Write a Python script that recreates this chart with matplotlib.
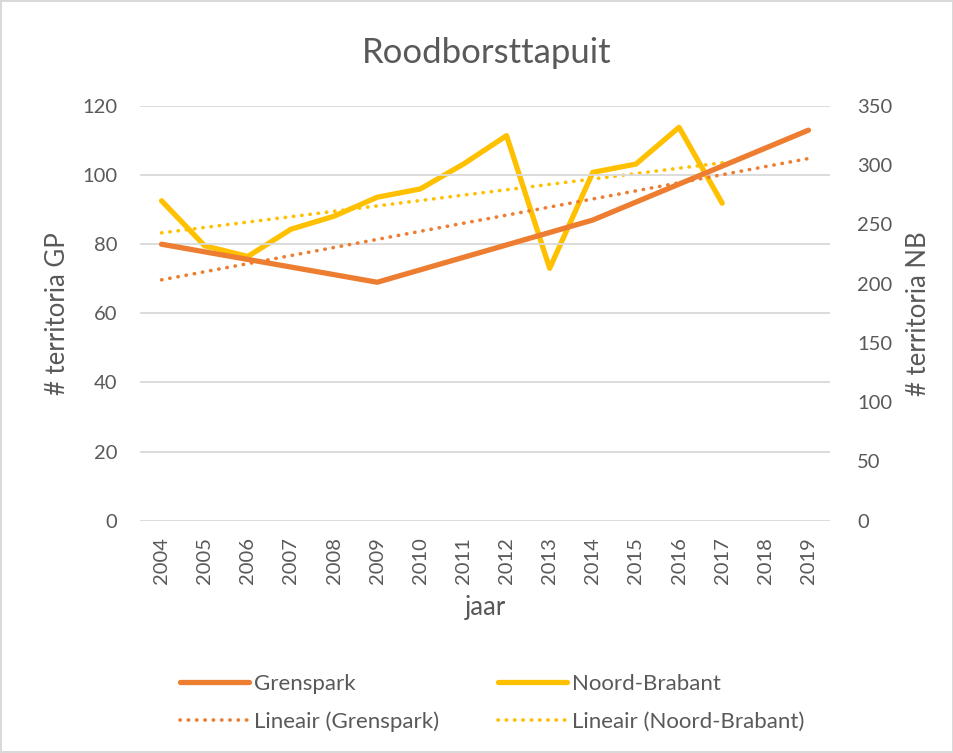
import matplotlib.pyplot as plt
import numpy as np

plt.rcParams['font.family'] = ['Lato', 'DejaVu Sans']

jaren = ['2004', '2005', '2006', '2007', '2008', '2009', '2010', '2011',
         '2012', '2013', '2014', '2015', '2016', '2017', '2018', '2019']
# Grenspark: alleen tellingen in 2004, 2009, 2014 en 2019 (lege cellen verbonden)
grenspark = [80, None, None, None, None, 69, None, None,
             None, None, 87, None, None, None, None, 113]
noord_brabant = [270, 232, 223, 246, 257, 273, 280, 301, 325, 213, 294, 301, 332, 268]

ORANJE = '#ED7D31'
GEEL = '#FFC000'
TEKST = '#595959'
W, H = 954, 753

fig = plt.figure(figsize=(W / 100, H / 100), dpi=100)
fig.patch.set_edgecolor('#D9D9D9')
fig.patch.set_linewidth(1.5)
ax = fig.add_axes([140 / W, 1 - 520.7 / H, 690 / W, 414.7 / H])
ax2 = ax.twinx()

x_gp = np.array([i for i, v in enumerate(grenspark) if v is not None])
y_gp = np.array([v for v in grenspark if v is not None])
x_nb = np.arange(len(noord_brabant))
y_nb = np.array(noord_brabant)

# trendlijnen (lineair, zoals Excel)
stip = (0, (0.1, 2.2))
a, b = np.polyfit(x_gp, y_gp, 1)
xs = np.arange(len(jaren))
trend_gp, = ax.plot(xs, a * xs + b, color=ORANJE, lw=2.6, ls=stip,
                    dash_capstyle='round', label='Lineair (Grenspark)')
c, d = np.polyfit(x_nb, y_nb, 1)
trend_nb, = ax2.plot(x_nb, c * x_nb + d, color=GEEL, lw=2.6, ls=stip,
                     dash_capstyle='round', label='Lineair (Noord-Brabant)')

lijn_gp, = ax.plot(x_gp, y_gp, color=ORANJE, lw=3.8, solid_capstyle='round',
                   solid_joinstyle='round', label='Grenspark')
lijn_nb, = ax2.plot(x_nb, y_nb, color=GEEL, lw=3.8, solid_capstyle='round',
                    solid_joinstyle='round', label='Noord-Brabant')
ax.set_zorder(ax2.get_zorder() + 1)
ax.patch.set_visible(False)

ax.set_xlim(-0.5, len(jaren) - 0.5)
ax.set_ylim(0, 120)
ax.set_yticks(range(0, 121, 20))
ax2.set_ylim(0, 350)
ax2.set_yticks(range(0, 351, 50))
ax.set_xticks(xs)
ax.set_xticklabels(jaren, rotation=90)

ax.grid(axis='y', color='#D9D9D9', lw=1.3)
ax.set_axisbelow(True)
for a_ in (ax, ax2):
    for s in a_.spines.values():
        s.set_visible(False)
    a_.tick_params(length=0, labelsize=14.5, labelcolor=TEKST)
ax.tick_params(axis='y', pad=16.5)
ax2.tick_params(axis='y', pad=19.5)
ax.tick_params(axis='x', pad=12)

fig.text(487 / W, 1 - 53 / H, 'Roodborsttapuit', fontsize=25, color=TEKST,
         ha='center', va='center')
fig.text(486 / W, 1 - 608 / H, 'jaar', fontsize=18.5, color=TEKST,
         ha='center', va='center')
fig.text(58 / W, 1 - 314 / H, '# territoria GP', fontsize=18.5, color=TEKST,
         ha='center', va='center', rotation=90)
fig.text(919 / W, 1 - 314 / H, '# territoria NB', fontsize=18.5, color=TEKST,
         ha='center', va='center', rotation=90)

fig.legend(handles=[lijn_gp, trend_gp, lijn_nb, trend_nb], ncol=2, loc='center left',
           bbox_to_anchor=(0.168, 1 - 703 / H), frameon=False, fontsize=16,
           labelcolor=TEKST, handlelength=3.1, handletextpad=0.22,
           columnspacing=2.65, labelspacing=0.8)

fig.savefig('out.png', dpi=100)
